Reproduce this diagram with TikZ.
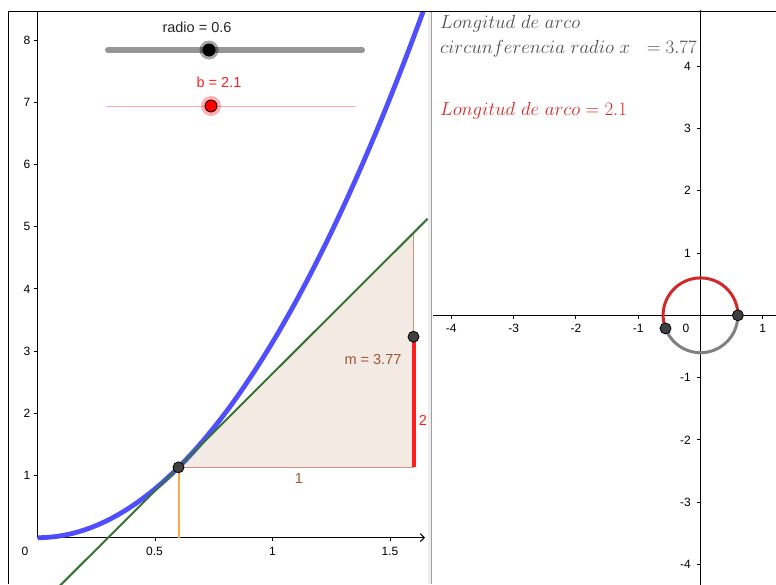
\RequirePackage{fix-cm}
\documentclass[tikz,border=0pt]{standalone}
\usepackage{fontspec}
\newfontfamily\ggfont{Liberation Sans}
\usetikzlibrary{arrows.meta}
\definecolor{curveblue}{RGB}{70,70,255}
\definecolor{tangreen}{RGB}{50,118,50}
\definecolor{trifill}{RGB}{243,234,228}
\definecolor{triedge}{RGB}{205,150,122}
\definecolor{brownlbl}{RGB}{160,85,50}
\definecolor{segred}{RGB}{255,30,30}
\definecolor{orangeseg}{RGB}{255,170,70}
\definecolor{ptgrey}{RGB}{64,64,64}
\definecolor{arcred}{RGB}{210,40,40}
\definecolor{arcgrey}{RGB}{128,128,128}
\definecolor{txtgrey}{RGB}{80,80,80}
\definecolor{txtred}{RGB}{220,40,40}
\definecolor{slidergrey}{RGB}{150,150,150}
\definecolor{sliderpink}{RGB}{255,170,170}
\definecolor{divgrey}{RGB}{160,160,160}
\definecolor{divlight}{RGB}{238,238,238}
\begin{document}
\begin{tikzpicture}[x=1pt,y=-1pt,
  lbl/.style={inner sep=0pt, font=\ggfont\fontsize{12}{12}\selectfont},
  biglbl/.style={inner sep=0pt, font=\ggfont\fontsize{14.5}{14.5}\selectfont},
  axisline/.style={line width=1.1pt, black},
  tickline/.style={line width=0.9pt, black},
  gpoint/.style={fill=ptgrey, draw=black, line width=0.8pt},
  mtext/.style={inner sep=0pt, font=\fontsize{18.9}{21}\selectfont, anchor=base west}]
\useasboundingbox (0,0) rectangle (776,584);
\fill[white] (0,0) rectangle (776,584);
% divider
\fill[divlight] (427.5,11) rectangle (431,584);
\draw[divgrey, line width=1.6pt] (431.5,11) -- (431.5,584);
% ---------------- left panel ----------------
\begin{scope}
\clip (9,12) rectangle (429,584);
\begin{scope}[shift={(37.5,537.7)}, x=235pt, y=62.2pt]
  \coordinate (P) at (0.6,1.1310);
  \coordinate (Q) at (1.6,1.1310);
  \coordinate (R) at (1.6,4.9009);
  \coordinate (S) at (1.6,3.2310);
  \coordinate (O) at (0,0);
  \coordinate (F) at (0.6,0);
  \fill[trifill] (P) -- (Q) -- (R) -- cycle;
  % axes
  \draw[axisline, -{Straight Barb[length=4pt,width=8pt]}] (O) -- (1.649,0);
  \draw[axisline] (O) -- (0,8.6);
  \foreach \v in {0.5,1,1.5} \draw[tickline] (\v,0) -- ++(0pt,-3.5pt);
  \foreach \v in {1,...,8} \draw[tickline] (0,\v) -- ++(-3.5pt,0pt);
  % segments
  \draw[orangeseg, line width=2pt] (F) -- (P);
  \draw[triedge, line width=1.6pt] (P) -- (Q);
  \draw[triedge, line width=1.6pt] (S) -- (R);
  \draw[segred, line width=4pt] (Q) -- (S);
  % curve and tangent
  \draw[curveblue, line width=4.8pt, opacity=0.95] plot[domain=0:1.67, samples=120, smooth] (\x,{pi*\x*\x});
  \draw[tangreen, line width=2pt] (0.09,{1.131+3.7699*(0.09-0.6)}) -- (1.66,{1.131+3.7699*(1.66-0.6)});
  \draw[gpoint] (P) circle (5.5pt);
  \draw[gpoint] (S) circle (5.5pt);
\end{scope}
\end{scope}
% left tick labels
\foreach \v in {1,...,8} \node[lbl, anchor=east] (ly\v) at (30.5,{537.7-62.2*\v}) {\v};
\node[lbl] (lx0) at (25,551) {0};
\node[lbl] (lx1) at (154.5,551) {0.5};
\node[lbl] (lx2) at (272.5,551) {1};
\node[lbl] (lx3) at (390,551) {1.5};
% triangle labels
\node[biglbl, text=brownlbl] (one) at (299,479) {1};
\node[biglbl, text=brownlbl] (mlbl) at (373,360) {m = 3.77};
\node[biglbl, text=segred] (two) at (423,420) {2};
% sliders
\node[biglbl, text=black!85] (radlbl) at (197,27) {radio = 0.6};
\draw[slidergrey, line width=6pt, line cap=round] (108,50) -- (362,50);
\fill[black, opacity=0.35] (209,50) circle (9.5pt);
\fill[black] (209,50) circle (6.5pt);
\node[biglbl, text=segred] (blbl) at (219,82) {b = 2.1};
\draw[sliderpink, line width=1pt] (106,106) -- (356,106);
\fill[segred, opacity=0.35] (211,106) circle (10pt);
\draw[fill=red, draw=black, line width=0.8pt] (211,106) circle (6pt);
% ---------------- right panel ----------------
\begin{scope}[shift={(700.5,315.3)}, x=62.3pt, y=62.3pt]
  \coordinate (C) at (0,0);
  \coordinate (A) at (0.6,0);
  \coordinate (B) at ({0.6*cos(200.54)},{0.6*sin(200.54)});
  \draw[axisline] (-4.3,0) -- (1.3,0);
  \draw[axisline] (0,4.9) -- (0,-4.35);
  \foreach \v in {-4,-3,-2,-1,1} \draw[tickline] (\v,0) -- ++(0pt,-3.5pt);
  \foreach \v in {-4,-3,-2,-1,1,2,3,4} \draw[tickline] (0,\v) -- ++(-3.5pt,0pt);
  \draw[arcred, line width=3pt] (A) arc[start angle=0, end angle=200.54, radius=37.4pt];
  \draw[arcgrey, line width=3pt] (B) arc[start angle=200.54, end angle=360, radius=37.4pt];
  \draw[gpoint] (A) circle (5.5pt);
  \draw[gpoint] (B) circle (5.5pt);
\end{scope}
\foreach \v in {-4,-3,-2,-1,1} \node[lbl] (rx\v) at ({700.5+62.3*\v},328) {\v};
\node[lbl] (rx0) at (686,328) {0};
\foreach \v in {-4,-3,-2,-1,1,2,3,4} \node[lbl, anchor=east] (ry\v) at (691,{315.3-62.3*\v}) {\v};
% frame
\draw[black, line width=1.5pt] (8.5,584) -- (8.5,11.3) -- (776,11.3);
% texts
\node[mtext, text=txtgrey] (t1) at (440,28.3) {$Longitud\ de\ arco$};
\node[mtext, text=txtgrey] (t2) at (440,53.3) {$circunferencia\ radio\ x$};
\node[mtext, text=txtgrey, anchor=base east] (t3) at (697,53.3) {$=3.77$};
\node[mtext, text=txtred] (t4) at (440,115) {$Longitud\ de\ arco=2.1$};
\end{tikzpicture}
\end{document}
